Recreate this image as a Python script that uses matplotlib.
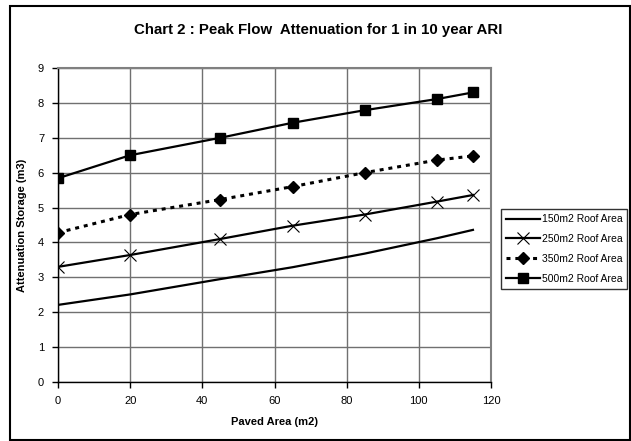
import matplotlib
matplotlib.use("Agg")
import matplotlib.pyplot as plt
from matplotlib.patches import Rectangle

plt.rcParams["font.family"] = ["Liberation Sans", "DejaVu Sans"]

paved_area = [0, 20, 45, 65, 85, 105, 115]
roof_150 = [2.21, 2.51, 2.95, 3.29, 3.68, 4.12, 4.36]
roof_250 = [3.30, 3.64, 4.10, 4.48, 4.80, 5.17, 5.36]
roof_350 = [4.28, 4.80, 5.23, 5.60, 6.00, 6.36, 6.48]
roof_500 = [5.84, 6.50, 7.00, 7.43, 7.79, 8.11, 8.30]

W, H = 631, 441
fig = plt.figure(figsize=(W / 100, H / 100), dpi=100)
fig.patches.append(Rectangle((10 / W, 1 - 440 / H), 620 / W, 434 / H,
                             transform=fig.transFigure, fill=False,
                             edgecolor="black", linewidth=1.5))

ax = fig.add_axes([58 / W, 1 - 382 / H, 433 / W, 314 / H])
ax.plot(paved_area, roof_150, color="black", lw=1.6, label="150m2 Roof Area")
ax.plot(paved_area, roof_250, color="black", lw=1.6, marker="x", ms=8,
        mew=0.8, label="250m2 Roof Area")
ax.plot(paved_area, roof_350, color="black", lw=2.2, ls=(0, (1.3, 1.6)),
        marker="D", ms=6, label="350m2 Roof Area")
ax.plot(paved_area, roof_500, color="black", lw=1.6, marker="s", ms=7.5,
        label="500m2 Roof Area")

ax.set_xlim(0, 120)
ax.set_ylim(0, 9)
ax.set_xticks(range(0, 121, 20))
ax.set_yticks(range(0, 10))
ax.grid(True, color="#707070", lw=1)
ax.set_axisbelow(True)
for side in ["top", "right"]:
    ax.spines[side].set_color("#808080")
    ax.spines[side].set_linewidth(1.5)
for side in ["left", "bottom"]:
    ax.spines[side].set_color("black")
    ax.spines[side].set_linewidth(1)
ax.tick_params(direction="out", length=4, width=1, labelsize=8, pad=6)

ax.set_xlabel("Paved Area (m2)", fontsize=8, fontweight="bold", labelpad=8)
ax.set_ylabel("Attenuation Storage (m3)", fontsize=8, fontweight="bold", labelpad=8)
fig.text(318 / W, 1 - 30 / H,
         "Chart 2 : Peak Flow  Attenuation for 1 in 10 year ARI",
         ha="center", va="center", fontsize=10.8, fontweight="bold")

leg = fig.legend(loc="upper left", bbox_to_anchor=(501 / W, 1 - 209 / H),
                 fontsize=7.5, frameon=True, fancybox=False, borderpad=0.5,
                 handlelength=3.2, handletextpad=0.2, labelspacing=0.95,
                 borderaxespad=0)
leg.get_frame().set_edgecolor("black")
leg.get_frame().set_linewidth(1)

fig.savefig("out.png", dpi=100)
